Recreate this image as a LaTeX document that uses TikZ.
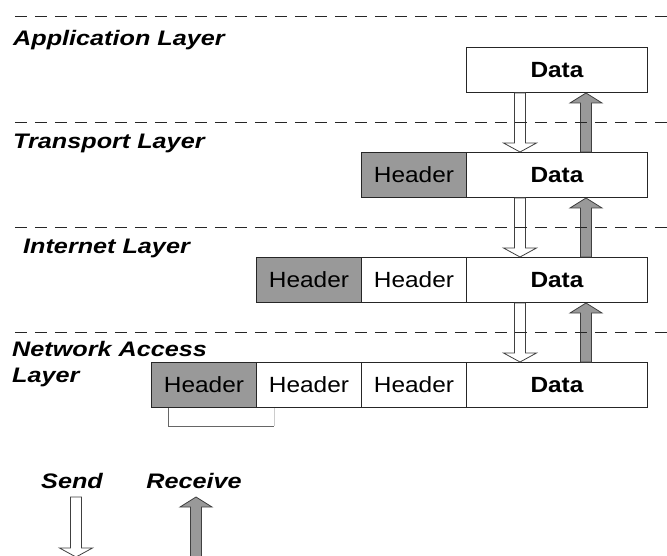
\documentclass[tikz,border=0pt]{standalone}
\usepackage{fontspec}
\setmainfont{Liberation Sans}
\newfontfamily\cellfont[FakeStretch=1.11]{Liberation Sans}
\newfontfamily\layerfont[FakeStretch=1.2]{Liberation Sans}
\usetikzlibrary{calc}

% hollow block arrow pointing down: tail point #1, tip point #2, x offset #3
\newcommand\sendArrow[3]{%
  \draw[sendarr] ($(#1)+(#3-5.5,0)$) -- ($(#1)+(#3+5.5,0)$)
    -- ($(#2)+(#3+5.5,-9)$) -- ($(#2)+(#3+16.5,-9)$) -- ($(#2)+(#3,0)$)
    -- ($(#2)+(#3-16.5,-9)$) -- ($(#2)+(#3-5.5,-9)$) -- cycle;}
% filled block arrow pointing up: tip point #1, tail point #2, x offset #3
\newcommand\recvArrow[3]{%
  \draw[recvarr] ($(#2)+(#3-5.5,0)$) -- ($(#1)+(#3-5.5,10)$)
    -- ($(#1)+(#3-16,10)$) -- ($(#1)+(#3,0)$) -- ($(#1)+(#3+16,10)$)
    -- ($(#1)+(#3+5.5,10)$) -- ($(#2)+(#3+5.5,0)$) -- cycle;}

\begin{document}
\begin{tikzpicture}[x=1pt,y=-1pt,
  cell/.style={draw=black!85, line width=1pt, minimum height=45pt,
    inner sep=0pt, anchor=north west, fill=white,
    font=\cellfont\fontsize{22}{26}\selectfont},
  hdr/.style={cell, minimum width=105pt},
  hdrg/.style={hdr, fill=black!40},
  datacell/.style={cell, minimum width=181pt,
    font=\cellfont\fontsize{22}{26}\selectfont\bfseries},
  layer/.style={anchor=base west, inner sep=0pt,
    font=\layerfont\fontsize{21}{24}\selectfont\bfseries\itshape},
  sep/.style={draw=black!85, line width=1pt, dash pattern=on 12pt off 8pt},
  sendarr/.style={draw=black!75, fill=white, line width=0.8pt},
  recvarr/.style={draw=black!75, fill=black!40, line width=0.8pt},
  bracketdark/.style={draw=black!60, line width=0.9pt},
  bracketlight/.style={draw=black!20, line width=0.9pt}]
\useasboundingbox[fill=white] (0,0) rectangle (667,556);

% layer names
\node[layer] (lapp) at (13,46) {Application Layer};
\node[layer] (ltr)  at (13,149) {Transport Layer};
\node[layer] (lin)  at (23,254) {Internet Layer};
\node[layer] (lna1) at (12,356) {Network Access};
\node[layer] (lna2) at (12,382) {Layer};

% packet cells per layer
\node[datacell] (d1) at (466,47) {Data};

\node[hdrg] (t1) at (361,152) {Header};
\node[datacell] (d2) at (466,152) {Data};

\node[hdrg] (i1) at (256,257) {Header};
\node[hdr]  (i2) at (361,257) {Header};
\node[datacell] (d3) at (466,257) {Data};

\node[hdrg] (n1) at (151,362) {Header};
\node[hdr]  (n2) at (256,362) {Header};
\node[hdr]  (n3) at (361,362) {Header};
\node[datacell] (d4) at (466,362) {Data};

% bracket under the outermost header
\draw[bracketdark] ($(n1.south west)+(17,0)$) |- ($(n1.south east)+(17,18)$);
\draw[bracketlight] ($(n1.south east)+(17,0)$) -- ($(n1.south east)+(17,18)$);

% send / receive arrows between layers
\sendArrow{d1.south}{d2.north}{-37}
\recvArrow{d1.south}{d2.north}{29}
\sendArrow{d2.south}{d3.north}{-37}
\recvArrow{d2.south}{d3.north}{29}
\sendArrow{d3.south}{d4.north}{-37}
\recvArrow{d3.south}{d4.north}{29}

% layer separators
\coordinate (s1a) at (15,17);  \coordinate (s1b) at (667,17);
\coordinate (s2a) at (15,123); \coordinate (s2b) at (667,123);
\coordinate (s3a) at (15,228); \coordinate (s3b) at (667,228);
\coordinate (s4a) at (15,332); \coordinate (s4b) at (667,332);
\draw[sep] (s1a) -- (s1b);
\draw[sep] (s2a) -- (s2b);
\draw[sep] (s3a) -- (s3b);
\draw[sep] (s4a) -- (s4b);

% legend
\node[layer, anchor=base] (lsend) at (72,488) {Send};
\node[layer, anchor=base] (lrecv) at (194,488) {Receive};
\coordinate (sendtop) at (76,497);
\coordinate (sendtip) at (76,557);
\coordinate (recvtip) at (196,497);
\coordinate (recvtail) at (196,570);
\sendArrow{sendtop}{sendtip}{0}
\recvArrow{recvtip}{recvtail}{0}
\end{tikzpicture}
\end{document}
